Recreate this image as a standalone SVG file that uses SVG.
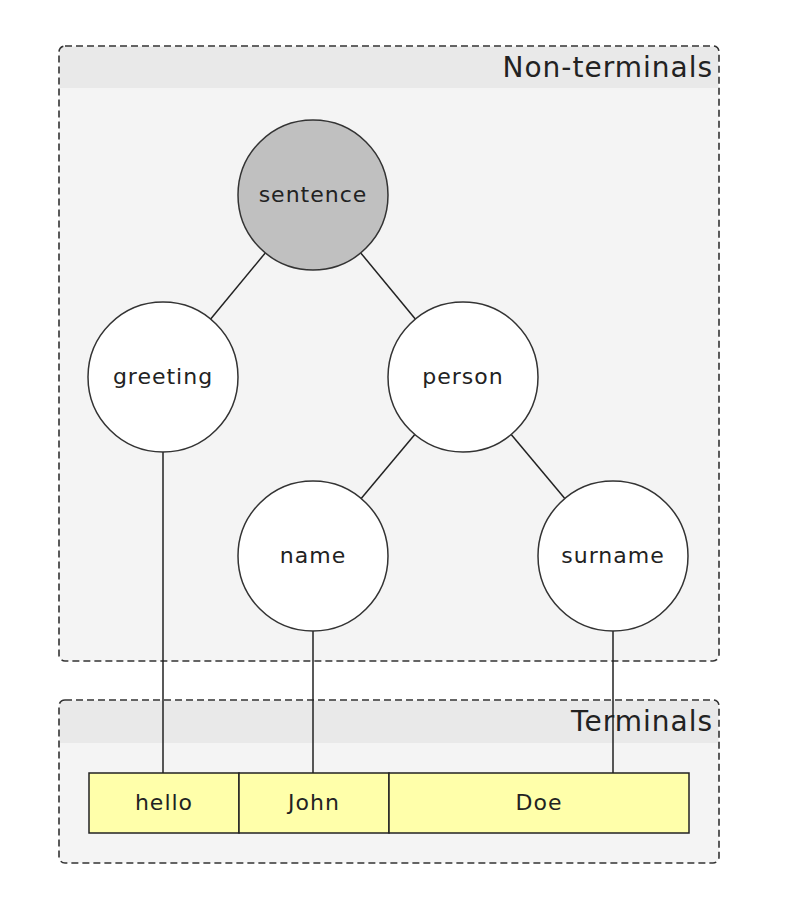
<svg xmlns="http://www.w3.org/2000/svg" width="788" height="902" viewBox="0 0 788 902">
<style>
.cl{fill:#f4f4f4;stroke:none}
.hd{fill:#e9e9e9;stroke:none}
.ol{fill:none;stroke:#333;stroke-width:1.6;stroke-dasharray:7,4}
.ht{font-family:"DejaVu Sans",sans-serif;font-size:28px;letter-spacing:1px;fill:#222;text-anchor:end}
.nd{fill:#fff;stroke:#333;stroke-width:1.5}
.lb{font-family:"DejaVu Sans",sans-serif;font-size:22px;letter-spacing:1px;fill:#222;text-anchor:middle}
.tm{fill:#ffffaa;stroke:#222;stroke-width:1.5}
.ed{stroke:#222;stroke-width:1.5;fill:none}
</style>
<rect width="788" height="902" fill="#fff"/>
<g id="cluster-nonterminals">
<rect class="cl" x="59" y="46" width="660" height="615" rx="6"/>
<path class="hd" d="M60,88 V52 A5,5 0 0 1 65,47 H713 A5,5 0 0 1 718,52 V88 Z"/>
<rect class="ol" x="59" y="46" width="660" height="615" rx="6"/>
<text class="ht" x="713" y="77">Non-terminals</text>
</g>
<g id="cluster-terminals">
<rect class="cl" x="59" y="700" width="660" height="163" rx="6"/>
<path class="hd" d="M60,743 V706 A5,5 0 0 1 65,701 H713 A5,5 0 0 1 718,706 V743 Z"/>
<rect class="ol" x="59" y="700" width="660" height="163" rx="6"/>
<text class="ht" x="713" y="731">Terminals</text>
</g>
<g id="connectors">
<line class="ed" x1="265.3" y1="252.9" x2="210.7" y2="319.1"/>
<line class="ed" x1="360.7" y1="252.9" x2="415.3" y2="319.1"/>
<line class="ed" x1="414.8" y1="434.5" x2="361.2" y2="498.5"/>
<line class="ed" x1="511.2" y1="434.5" x2="564.8" y2="498.5"/>
<line class="ed" x1="163" y1="452" x2="163" y2="773"/>
<line class="ed" x1="313" y1="631" x2="313" y2="773"/>
<line class="ed" x1="613" y1="631" x2="613" y2="773"/>
</g>
<g id="node-sentence">
<circle class="nd" cx="313" cy="195" r="75" style="fill:#c0c0c0"/>
<text class="lb" x="313" y="202">sentence</text>
</g>
<g id="node-greeting">
<circle class="nd" cx="163" cy="377" r="75"/>
<text class="lb" x="163" y="384">greeting</text>
</g>
<g id="node-person">
<circle class="nd" cx="463" cy="377" r="75"/>
<text class="lb" x="463" y="384">person</text>
</g>
<g id="node-name">
<circle class="nd" cx="313" cy="556" r="75"/>
<text class="lb" x="313" y="563">name</text>
</g>
<g id="node-surname">
<circle class="nd" cx="613" cy="556" r="75"/>
<text class="lb" x="613" y="563">surname</text>
</g>
<g id="node-hello">
<rect class="tm" x="89" y="773" width="150" height="60"/>
<text class="lb" x="164" y="810">hello</text>
</g>
<g id="node-john">
<rect class="tm" x="239" y="773" width="150" height="60"/>
<text class="lb" x="314" y="810">John</text>
</g>
<g id="node-doe">
<rect class="tm" x="389" y="773" width="300" height="60"/>
<text class="lb" x="539" y="810">Doe</text>
</g>
</svg>
